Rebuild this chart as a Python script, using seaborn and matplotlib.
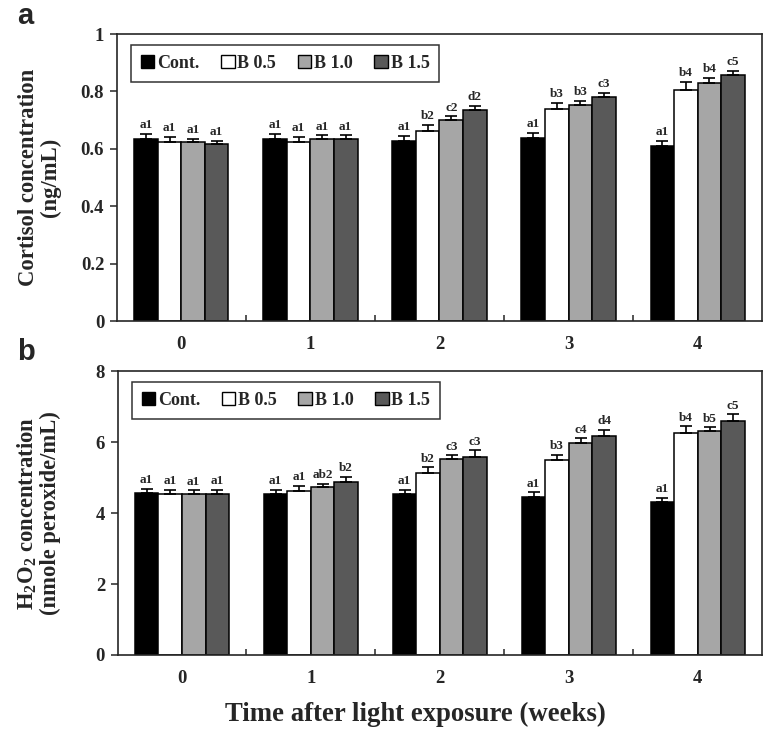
import numpy as np
import pandas as pd
import matplotlib
matplotlib.use('Agg')
import matplotlib.pyplot as plt
from matplotlib.patches import Patch
from matplotlib.ticker import FuncFormatter, FixedLocator
import seaborn as sns

# 数据
weeks = ['0', '1', '2', '3', '4']
groups = ['Cont.', 'B 0.5', 'B 1.0', 'B 1.5']
colors = ['#000000', '#ffffff', '#a6a6a6', '#595959']

# 皮质醇
cort_cont = [0.633, 0.633, 0.627, 0.637, 0.611]
cort_b05 = [0.625, 0.625, 0.663, 0.740, 0.806]
cort_b10 = [0.623, 0.635, 0.700, 0.752, 0.830]
cort_b15 = [0.617, 0.635, 0.737, 0.779, 0.856]
cort_err_cont = [0.019, 0.020, 0.017, 0.019, 0.017]
cort_err_b05 = [0.017, 0.018, 0.021, 0.021, 0.026]
cort_err_b10 = [0.012, 0.012, 0.013, 0.016, 0.016]
cort_err_b15 = [0.012, 0.012, 0.014, 0.015, 0.017]
cort_lab_cont = ['a1', 'a1', 'a1', 'a1', 'a1']
cort_lab_b05 = ['a1', 'a1', 'b2', 'b3', 'b4']
cort_lab_b10 = ['a1', 'a1', 'c2', 'b3', 'b4']
cort_lab_b15 = ['a1', 'a1', 'd2', 'c3', 'c5']

# H2O2
h2o2_cont = [4.56, 4.53, 4.53, 4.47, 4.31]
h2o2_b05 = [4.54, 4.64, 5.13, 5.49, 6.26]
h2o2_b10 = [4.555, 4.73, 5.53, 5.99, 6.31]
h2o2_b15 = [4.53, 4.87, 5.60, 6.17, 6.61]
h2o2_err_cont = [0.12, 0.13, 0.12, 0.12, 0.12]
h2o2_err_b05 = [0.12, 0.14, 0.16, 0.16, 0.19]
h2o2_err_b10 = [0.09, 0.10, 0.10, 0.12, 0.11]
h2o2_err_b15 = [0.13, 0.15, 0.17, 0.18, 0.18]
h2o2_lab_cont = ['a1', 'a1', 'a1', 'a1', 'a1']
h2o2_lab_b05 = ['a1', 'a1', 'b2', 'b3', 'b4']
h2o2_lab_b10 = ['a1', 'ab2', 'c3', 'c4', 'b5']
h2o2_lab_b15 = ['a1', 'b2', 'c3', 'd4', 'c5']

sns.set_style('ticks')
plt.rcParams['font.family'] = ['Liberation Serif', 'DejaVu Serif']
plt.rcParams['font.weight'] = 'bold'
plt.rcParams['mathtext.default'] = 'regular'
plt.rcParams['axes.linewidth'] = 1.2


def make_df(series):
    rows = []
    for g, vals in zip(groups, series):
        for w, v in zip(weeks, vals):
            rows.append({'week': w, 'group': g, 'value': v})
    return pd.DataFrame(rows)


def draw_panel(ax, series, errs, labels, ymax, yticks, ylabel, lab_x):
    df = make_df(series)
    sns.barplot(data=df, x='week', y='value', hue='group', hue_order=groups,
                palette=colors, edgecolor='black', linewidth=1.1, width=0.73,
                saturation=1, errorbar=None, legend=False, ax=ax)
    # 误差线和显著性字母
    for cont, err, lab in zip(ax.containers, errs, labels):
        xs = [b.get_x() + b.get_width() / 2 for b in cont]
        hs = [b.get_height() for b in cont]
        ax.errorbar(xs, hs, yerr=[np.zeros(len(err)), err], fmt='none',
                    ecolor='black', elinewidth=1.2, capsize=4, capthick=1.2)
        for x, h, e, t in zip(xs, hs, err, lab):
            ax.annotate(t, (x, h + e), xytext=(0, 2), textcoords='offset points',
                        ha='center', va='bottom', fontsize=9.5, fontweight='bold')
    ax.set_xlim(-0.5, 4.5)
    ax.set_ylim(0, ymax)
    ax.set_yticks(yticks)
    ax.yaxis.set_major_formatter(FuncFormatter(lambda v, p: '%g' % v))
    ax.tick_params(axis='y', direction='out', length=5, width=1.1, labelsize=13.5, pad=4)
    ax.tick_params(axis='x', which='major', length=0, labelsize=13.5, pad=11)
    ax.xaxis.set_minor_locator(FixedLocator([0.5, 1.5, 2.5, 3.5]))
    ax.tick_params(axis='x', which='minor', direction='in', length=4, width=1.1)
    for s in ax.spines.values():
        s.set_visible(True)
        s.set_linewidth(1.2)
    ax.set_xlabel('')
    ax.set_ylabel(ylabel, fontsize=16.3, fontweight='bold', linespacing=1.05)
    ax.yaxis.label.set_va('center')
    ax.yaxis.set_label_coords(lab_x, 0.5)
    handles = [Patch(facecolor=c, edgecolor='black', linewidth=1) for c in colors]
    leg = ax.legend(handles, groups, loc='upper left', bbox_to_anchor=(0.022, 0.962),
                    ncol=4, frameon=True, fancybox=False, borderaxespad=0,
                    handlelength=0.75, handleheight=0.75, handletextpad=0.15,
                    columnspacing=1.2, borderpad=0.55,
                    prop={'size': 13, 'weight': 'bold'})
    leg.get_frame().set_edgecolor('black')
    leg.get_frame().set_linewidth(1.1)


fig = plt.figure(figsize=(7.63, 7.40), dpi=100)
ax1 = fig.add_axes([0.153, 0.566, 0.846, 0.388])
ax2 = fig.add_axes([0.154, 0.115, 0.845, 0.383])

draw_panel(ax1, [cort_cont, cort_b05, cort_b10, cort_b15],
           [cort_err_cont, cort_err_b05, cort_err_b10, cort_err_b15],
           [cort_lab_cont, cort_lab_b05, cort_lab_b10, cort_lab_b15],
           1, [0, 0.2, 0.4, 0.6, 0.8, 1.0],
           'Cortisol concentration\n(ng/mL)', -0.119)
draw_panel(ax2, [h2o2_cont, h2o2_b05, h2o2_b10, h2o2_b15],
           [h2o2_err_cont, h2o2_err_b05, h2o2_err_b10, h2o2_err_b15],
           [h2o2_lab_cont, h2o2_lab_b05, h2o2_lab_b10, h2o2_lab_b15],
           8, [0, 2, 4, 6, 8],
           'H$_2$O$_2$ concentration\n(nmole peroxide/mL)', -0.122)

fig.text(0.544, 0.034, 'Time after light exposure (weeks)', ha='center', va='center',
         fontsize=19.3, fontweight='bold')
fig.text(0.022, 0.978, 'a', ha='left', va='center', fontsize=21, fontweight='bold',
         family='Liberation Sans')
fig.text(0.022, 0.525, 'b', ha='left', va='center', fontsize=21, fontweight='bold',
         family='Liberation Sans')

fig.savefig('out.png', dpi=100)
